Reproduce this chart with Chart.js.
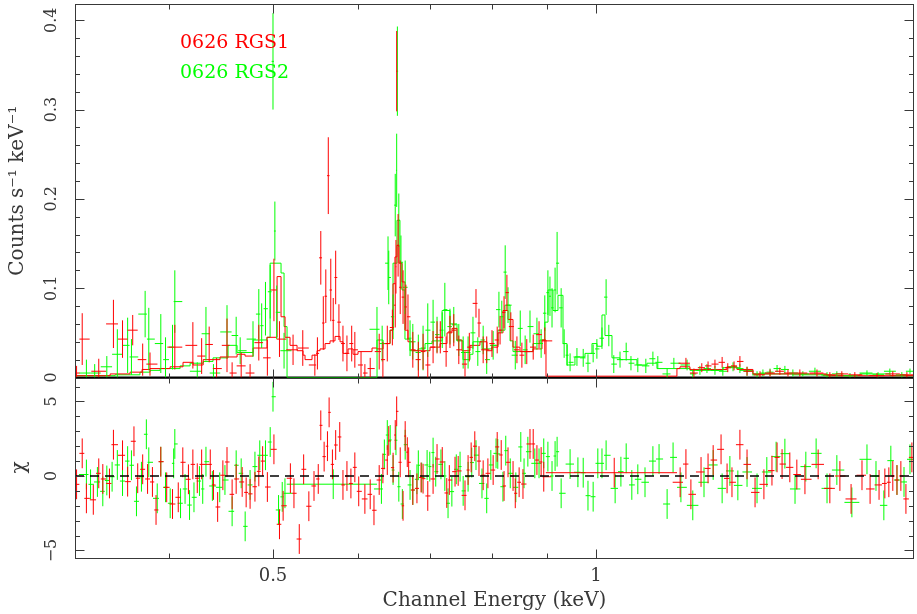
<!DOCTYPE html>
<html>
<head>
<meta charset="utf-8">
<title>0626 RGS spectrum</title>
<script src="https://cdn.jsdelivr.net/npm/chart.js@4.4.1/dist/chart.umd.min.js"></script>
<style>
  html, body { margin: 0; padding: 0; background: #fff; }
  #spec { display: block; }
</style>
</head>
<body>
<canvas id="spec" width="917" height="614"></canvas>
<script>
// ==========================================
// RGS1 / RGS2 SPECTRUM + RESIDUALS
// ==========================================

// --- AXES / LABELS ---
const seriesNames = ['0626 RGS1', '0626 RGS2'];
const seriesColors = ['#ff0000', '#00ff00'];
const energyTicks = [0.4, 0.5, 0.6, 0.7, 0.8, 0.9, 1];
const energyLabels = [0.5, 1];
const rateTicks = [0, 0.1, 0.2, 0.3, 0.4];
const rateTickLabels = ['0', '0.1', '0.2', '0.3', '0.4'];
const chiTicks = [-5, 0, 5];
const chiTickLabels = ['\u22125', '0', '5'];

// --- RGS1 DATA (keV, counts/s/keV, 1 sigma) ---
const rgs1E = [
  0.328, 0.332, 0.344, 0.355, 0.362, 0.370, 0.378, 0.384, 0.405, 0.421,
  0.429, 0.436, 0.443, 0.453, 0.458, 0.467, 0.476, 0.485, 0.494, 0.501,
  0.507, 0.522, 0.533, 0.547, 0.550, 0.554, 0.557, 0.560, 0.563, 0.566,
  0.569, 0.572, 0.576, 0.581, 0.586, 0.592, 0.596, 0.604, 0.609, 0.616,
  0.628, 0.633, 0.639, 0.646, 0.650, 0.651, 0.652, 0.654, 0.657, 0.661,
  0.665, 0.668, 0.675, 0.683, 0.690, 0.697, 0.705, 0.711, 0.716, 0.725,
  0.731, 0.737, 0.745, 0.755, 0.762, 0.773, 0.778, 0.785, 0.791, 0.800,
  0.809, 0.814, 0.821, 0.826, 0.833, 0.844, 0.853, 0.862, 0.874, 0.885,
  0.896, 1.213, 1.234, 1.255, 1.272, 1.291, 1.311, 1.327, 1.345, 1.362,
  1.383, 1.422, 1.453, 1.484, 1.510, 1.549, 1.607, 1.652, 1.695, 1.743,
  1.828, 1.891, 1.949
];
const rgs1Rate = [
  0.005, 0.043, 0.007, 0.060, 0.043, 0.053, 0.020, 0.015, 0.034, 0.036,
  0.024, 0.037, 0.010, 0.036, 0.005, 0.013, 0.005, 0.039, 0.022, 0.098,
  0.043, 0.031, 0.033, 0.014, 0.027, 0.134, 0.061, 0.091, 0.226, 0.098,
  0.064, 0.112, 0.062, 0.038, 0.027, 0.038, 0.031, 0.014, 0.005, 0.010,
  0.029, 0.020, 0.038, 0.056, 0.081, 0.124, 0.343, 0.148, 0.101, 0.090,
  0.079, 0.068, 0.031, 0.020, 0.029, 0.014, 0.034, 0.045, 0.045, 0.029,
  0.051, 0.053, 0.031, 0.015, 0.034, 0.083, 0.061, 0.031, 0.031, 0.038,
  0.042, 0.053, 0.073, 0.095, 0.057, 0.031, 0.025, 0.029, 0.034, 0.048,
  0.041, 0.016, 0.005, 0.011, 0.013, 0.015, 0.017, 0.011, 0.013, 0.018,
  0.007, 0.003, 0.005, 0.007, 0.005, 0.005, 0.005, 0.003, 0.004, 0.003,
  0.002, 0.004, 0.003
];
const rgs1Err = [
  0.008, 0.029, 0.014, 0.027, 0.021, 0.017, 0.018, 0.013, 0.025, 0.026,
  0.020, 0.020, 0.012, 0.030, 0.012, 0.015, 0.010, 0.020, 0.020, 0.035,
  0.020, 0.017, 0.020, 0.012, 0.018, 0.030, 0.030, 0.030, 0.043, 0.035,
  0.025, 0.030, 0.020, 0.020, 0.020, 0.020, 0.020, 0.015, 0.010, 0.012,
  0.020, 0.020, 0.020, 0.020, 0.025, 0.030, 0.045, 0.035, 0.030, 0.030,
  0.025, 0.025, 0.020, 0.020, 0.020, 0.015, 0.018, 0.018, 0.018, 0.017,
  0.018, 0.018, 0.016, 0.014, 0.016, 0.016, 0.016, 0.015, 0.015, 0.015,
  0.015, 0.016, 0.018, 0.020, 0.016, 0.015, 0.014, 0.014, 0.014, 0.015,
  0.015, 0.006, 0.005, 0.005, 0.005, 0.005, 0.006, 0.005, 0.005, 0.006,
  0.005, 0.004, 0.004, 0.004, 0.004, 0.004, 0.004, 0.003, 0.003, 0.003,
  0.003, 0.003, 0.003
];

// --- RGS2 DATA ---
const rgs2E = [
  0.335, 0.341, 0.350, 0.358, 0.366, 0.369, 0.380, 0.383, 0.393, 0.397,
  0.403, 0.405, 0.425, 0.433, 0.440, 0.453, 0.462, 0.466, 0.479, 0.485,
  0.488, 0.492, 0.497, 0.500, 0.502, 0.504, 0.512, 0.625, 0.632, 0.640,
  0.641, 0.647, 0.650, 0.652, 0.653, 0.655, 0.658, 0.664, 0.671, 0.675,
  0.683, 0.690, 0.697, 0.705, 0.711, 0.719, 0.723, 0.731, 0.737, 0.745,
  0.752, 0.760, 0.768, 0.776, 0.785, 0.791, 0.802, 0.812, 0.817, 0.823,
  0.828, 0.841, 0.850, 0.859, 0.868, 0.881, 0.889, 0.896, 0.902, 0.906,
  0.910, 0.916, 0.920, 0.928, 0.934, 0.940, 0.946, 0.960, 0.973, 0.983,
  0.994, 1.002, 1.013, 1.022, 1.028, 1.039, 1.053, 1.067, 1.078, 1.094,
  1.113, 1.130, 1.142, 1.165, 1.182, 1.216, 1.231, 1.250, 1.269, 1.291,
  1.313, 1.342, 1.362, 1.383, 1.413, 1.431, 1.453, 1.475, 1.500, 1.526,
  1.559, 1.600, 1.642, 1.677, 1.725, 1.789, 1.832, 1.879, 1.928, 1.962
];
const rgs2Rate = [
  0.005, 0.005, 0.012, 0.026, 0.036, 0.023, 0.071, 0.043, 0.038, 0.020,
  0.034, 0.085, 0.007, 0.049, 0.005, 0.051, 0.047, 0.030, 0.043, 0.071,
  0.058, 0.077, 0.096, 0.354, 0.164, 0.073, 0.030, 0.054, 0.038, 0.128,
  0.112, 0.068, 0.193, 0.232, 0.343, 0.176, 0.129, 0.101, 0.044, 0.040,
  0.028, 0.033, 0.053, 0.062, 0.048, 0.053, 0.076, 0.057, 0.059, 0.042,
  0.028, 0.028, 0.050, 0.029, 0.042, 0.020, 0.036, 0.076, 0.068, 0.118,
  0.081, 0.025, 0.055, 0.031, 0.057, 0.049, 0.038, 0.072, 0.095, 0.091,
  0.078, 0.098, 0.128, 0.078, 0.038, 0.025, 0.017, 0.023, 0.022, 0.016,
  0.027, 0.032, 0.044, 0.090, 0.047, 0.015, 0.020, 0.029, 0.016, 0.014,
  0.013, 0.021, 0.017, 0.004, 0.016, 0.014, 0.004, 0.008, 0.010, 0.008,
  0.007, 0.012, 0.010, 0.007, 0.003, 0.005, 0.006, 0.010, 0.009, 0.005,
  0.004, 0.007, 0.003, 0.004, 0.002, 0.005, 0.003, 0.007, 0.003, 0.007
];
const rgs2Err = [
  0.015, 0.010, 0.012, 0.028, 0.031, 0.020, 0.026, 0.035, 0.033, 0.025,
  0.025, 0.035, 0.010, 0.030, 0.010, 0.030, 0.021, 0.015, 0.020, 0.028,
  0.025, 0.030, 0.030, 0.054, 0.033, 0.030, 0.020, 0.025, 0.020, 0.030,
  0.030, 0.025, 0.035, 0.041, 0.050, 0.030, 0.030, 0.030, 0.020, 0.020,
  0.020, 0.025, 0.030, 0.025, 0.020, 0.020, 0.030, 0.020, 0.020, 0.018,
  0.018, 0.018, 0.018, 0.016, 0.016, 0.016, 0.016, 0.020, 0.018, 0.030,
  0.020, 0.016, 0.020, 0.016, 0.018, 0.018, 0.016, 0.020, 0.025, 0.022,
  0.022, 0.025, 0.035, 0.022, 0.016, 0.012, 0.010, 0.010, 0.010, 0.010,
  0.010, 0.011, 0.012, 0.020, 0.012, 0.010, 0.009, 0.010, 0.008, 0.008,
  0.008, 0.008, 0.007, 0.006, 0.006, 0.006, 0.005, 0.005, 0.005, 0.005,
  0.005, 0.005, 0.005, 0.005, 0.004, 0.004, 0.004, 0.004, 0.004, 0.004,
  0.003, 0.004, 0.003, 0.003, 0.003, 0.003, 0.003, 0.003, 0.003, 0.003
];

// --- FOLDED MODELS (bin start energies, last entry closes the last bin) ---
const rgs1ModelE = [
  0.327, 0.3525, 0.3679, 0.3775, 0.3840, 0.4009, 0.4122, 0.4212, 0.4304, 0.4463,
  0.4629, 0.4709, 0.4791, 0.4936, 0.5044, 0.5087, 0.5131, 0.5186, 0.5265, 0.5333,
  0.5356, 0.5437, 0.5496, 0.5531, 0.5591, 0.5651, 0.5712, 0.5774, 0.5811, 0.5874,
  0.5937, 0.6001, 0.6184, 0.6251, 0.6332, 0.6428, 0.6469, 0.6496, 0.6524, 0.6552,
  0.6595, 0.6637, 0.6680, 0.6752, 0.7004, 0.7156, 0.7264, 0.7342, 0.7421, 0.7501,
  0.7631, 0.7796, 0.7914, 0.8000, 0.8104, 0.8191, 0.8280, 0.8369, 0.8496, 0.8736,
  0.8906, 0.8983, 1.1898, 1.1976, 1.2235, 1.3246, 1.3534, 1.4006, 1.6417, 1.979
];
const rgs1Model = [
  0.002, 0.004, 0.006, 0.009, 0.010, 0.012, 0.017, 0.014, 0.020, 0.023,
  0.026, 0.024, 0.033, 0.045, 0.113, 0.068, 0.045, 0.036, 0.030, 0.025,
  0.020, 0.025, 0.030, 0.032, 0.038, 0.041, 0.046, 0.040, 0.027, 0.032,
  0.026, 0.029, 0.033, 0.032, 0.038, 0.053, 0.105, 0.135, 0.148, 0.128,
  0.107, 0.053, 0.040, 0.030, 0.034, 0.038, 0.050, 0.055, 0.042, 0.030,
  0.036, 0.040, 0.030, 0.034, 0.050, 0.075, 0.065, 0.034, 0.029, 0.032,
  0.042, 0.0015, 0.010, 0.012, 0.009, 0.012, 0.009, 0.004, 0.002
];
const rgs2ModelE = [
  0.327, 0.3562, 0.3758, 0.3840, 0.3924, 0.4096, 0.4185, 0.4304, 0.4396, 0.4540,
  0.4629, 0.4791, 0.4936, 0.4969, 0.5087, 0.5120, 0.5153, 0.6251, 0.6332, 0.6428,
  0.6469, 0.6524, 0.6566, 0.6595, 0.6637, 0.6709, 0.6825, 0.6929, 0.7034, 0.7187,
  0.7311, 0.7421, 0.7517, 0.7631, 0.7680, 0.7830, 0.8000, 0.8104, 0.8226, 0.8316,
  0.8369, 0.8736, 0.8868, 0.8963, 0.9022, 0.9119, 0.9217, 0.9317, 0.9397, 0.9559,
  0.9767, 0.9915, 1.0022, 1.0130, 1.0195, 1.0350, 1.0529, 1.0920, 1.1157, 1.1399,
  1.2235, 1.3134, 1.3620, 1.4006, 1.5262, 1.6277, 1.7622, 1.8795, 1.979
];
const rgs2Model = [
  0.002, 0.003, 0.006, 0.008, 0.010, 0.013, 0.016, 0.018, 0.022, 0.036,
  0.028, 0.042, 0.045, 0.128, 0.117, 0.057, 0.000, 0.042, 0.038, 0.053,
  0.128, 0.176, 0.128, 0.098, 0.043, 0.030, 0.032, 0.038, 0.041, 0.075,
  0.060, 0.041, 0.020, 0.026, 0.040, 0.032, 0.036, 0.053, 0.081, 0.041,
  0.029, 0.038, 0.042, 0.062, 0.098, 0.075, 0.092, 0.038, 0.014, 0.023,
  0.027, 0.038, 0.035, 0.070, 0.047, 0.022, 0.020, 0.014, 0.016, 0.010,
  0.008, 0.011, 0.008, 0.004, 0.003, 0.002, 0.004, 0.002
];

// --- RESIDUALS (chi, error bars are +-1) ---
const rgs1ChiE = [
  0.328, 0.332, 0.335, 0.340, 0.344, 0.347, 0.352, 0.355, 0.362, 0.366,
  0.371, 0.374, 0.378, 0.382, 0.386, 0.389, 0.393, 0.398, 0.403, 0.408,
  0.412, 0.417, 0.421, 0.425, 0.429, 0.437, 0.440, 0.444, 0.449, 0.453,
  0.458, 0.462, 0.468, 0.472, 0.476, 0.481, 0.485, 0.489, 0.494, 0.501,
  0.507, 0.511, 0.519, 0.523, 0.529, 0.534, 0.540, 0.546, 0.551, 0.554,
  0.558, 0.562, 0.564, 0.568, 0.572, 0.577, 0.581, 0.586, 0.591, 0.596,
  0.601, 0.609, 0.616, 0.621, 0.628, 0.633, 0.639, 0.641, 0.647, 0.650,
  0.652, 0.657, 0.661, 0.664, 0.667, 0.669, 0.675, 0.681, 0.687, 0.690,
  0.697, 0.705, 0.711, 0.719, 0.726, 0.730, 0.739, 0.744, 0.755, 0.760,
  0.765, 0.771, 0.778, 0.785, 0.793, 0.802, 0.809, 0.816, 0.821, 0.828,
  0.837, 0.841, 0.848, 0.855, 0.868, 0.874, 0.881, 0.889, 0.894, 1.198,
  1.213, 1.226, 1.253, 1.272, 1.286, 1.308, 1.325, 1.339, 1.362, 1.383,
  1.407, 1.434, 1.459, 1.475, 1.491, 1.516, 1.539, 1.566, 1.611, 1.652,
  1.688, 1.729, 1.770, 1.801, 1.836, 1.859, 1.875, 1.891, 1.908, 1.924,
  1.945, 1.970
];
const rgs1Chi = [
  -0.56, 1.52, -1.5, -1.6, 0.18, -0.2, -0.5, 2.1, 1.39, -0.38,
  2.33, -0.15, 0.45, -0.2, -0.4, -2.28, 0.96, -0.76, -1.88, -1.43,
  0.92, -0.22, 0.78, -0.15, 0.78, 0.78, -0.6, -2.08, 0.05, 0.94,
  -1.23, -0.2, -0.4, -1.1, -1.2, -0.72, 0.31, 1.0, -0.74, 1.79,
  -3.24, -2.0, -0.15, -1.16, -4.23, 0.45, -2.03, -0.67, -0.2, 3.4,
  1.3, 2.0, 4.27, 0.78, 2.08, 2.62, -0.6, 0.0, -0.5, 0.58,
  -1.03, -1.54, -1.23, -2.3, -0.27, 0.51, 1.07, 2.35, 0.56, 2.75,
  4.34, 0.92, -2.0, 2.68, 1.6, 0.92, -0.94, -0.83, -0.1, -0.18,
  -1.34, -0.2, 1.14, 0.94, -1.14, -0.27, 0.29, 0.34, -1.3, 0.4,
  1.25, 2.0, 1.0, 0.05, 0.18, 0.4, 1.95, 1.41, -0.67, 0.92,
  0.0, -1.16, -0.42, -0.54, 2.15, 2.15, 1.07, 0.94, -0.05, -0.42,
  0.8, -1.23, 0.27, 0.51, 1.07, 1.79, -0.16, -0.42, 2.1, 0.78,
  -1.1, -0.56, 0.36, 1.25, 0.8, 0.58, 0.1, -0.22, 0.78, -0.83,
  0.0, -1.54, 0.05, -0.87, -0.6, -0.5, -0.42, 0.0, -0.27, 0.0,
  -1.54, 1.25
];
const rgs2ChiE = [
  0.335, 0.338, 0.343, 0.347, 0.350, 0.354, 0.358, 0.362, 0.366, 0.369,
  0.373, 0.377, 0.381, 0.383, 0.390, 0.393, 0.397, 0.401, 0.404, 0.405,
  0.410, 0.414, 0.418, 0.422, 0.427, 0.430, 0.433, 0.439, 0.446, 0.451,
  0.458, 0.462, 0.467, 0.471, 0.476, 0.481, 0.486, 0.492, 0.497, 0.500,
  0.506, 0.510, 0.513, 0.631, 0.635, 0.639, 0.643, 0.647, 0.651, 0.655,
  0.660, 0.664, 0.671, 0.675, 0.681, 0.683, 0.688, 0.696, 0.700, 0.705,
  0.709, 0.717, 0.723, 0.728, 0.734, 0.741, 0.747, 0.752, 0.760, 0.766,
  0.773, 0.783, 0.791, 0.798, 0.807, 0.810, 0.819, 0.824, 0.832, 0.842,
  0.851, 0.857, 0.864, 0.877, 0.885, 0.894, 0.902, 0.910, 0.916, 0.920,
  0.928, 0.946, 0.962, 0.973, 0.983, 0.994, 1.004, 1.013, 1.022, 1.042,
  1.055, 1.067, 1.080, 1.094, 1.111, 1.130, 1.145, 1.165, 1.180, 1.200,
  1.231, 1.261, 1.286, 1.311, 1.333, 1.356, 1.383, 1.413, 1.443, 1.472,
  1.500, 1.533, 1.569, 1.604, 1.642, 1.677, 1.732, 1.789, 1.824, 1.855,
  1.883, 1.908, 1.937, 1.962
];
const rgs2Chi = [
  0.1, -0.56, -0.4, -1.03, -0.3, -0.05, 0.74, -0.34, 1.0, 0.72,
  -1.7, -0.05, 2.8, 0.92, -1.5, 0.96, -0.76, -1.83, 0.85, 2.15,
  -1.83, -0.87, -1.95, -1.43, -0.34, -0.87, 0.96, -0.67, -0.76, -0.27,
  -2.37, 0.72, 0.18, -3.38, -0.6, 0.63, 1.39, 1.39, 2.28, 5.32,
  -2.28, -1.4, -1.16, -0.87, 1.45, 2.75, 2.42, 0.4, 2.4, -0.72,
  -1.88, 2.1, -0.6, -0.94, -0.22, 0.72, -0.1, 0.74, 0.63, 1.57,
  0.29, 0.78, 0.0, -1.83, -1.05, 0.45, 0.63, -1.0, -0.05, 0.9,
  1.4, -0.5, -1.5, 0.74, 1.52, 1.48, -0.72, 1.7, 0.18, -0.76,
  1.95, 0.18, 1.63, 0.85, 0.85, 1.52, 1.3, 0.0, 1.34, 1.63,
  -1.16, 0.8, 0.25, 0.22, -1.32, -1.39, 0.85, 0.85, 1.39, -0.83,
  0.29, 1.19, -0.6, -0.22, -0.42, 1.0, 1.14, -1.88, 1.25, -0.76,
  -1.97, -0.42, 0.74, -0.83, 0.34, -0.63, 0.27, -0.83, 0.27, 1.3,
  1.5, -0.87, 0.63, 1.52, -0.83, 0.4, -1.77, 1.12, 0.0, -1.97,
  1.03, -0.27, -0.4, 1.12
];

// the single wide bins that cover the dead CCD of each instrument: lo, centre, hi
const rgs1GapBin = [0.898, 1.040, 1.190];
const rgs1GapChi = 0.22;
const rgs2GapBin = [0.515, 0.569, 0.625];
const rgs2GapChi = -0.55;

// --- HELPERS ---

const FONT = 'DejaVu Serif';
const INK = '#383838';
const E_MIN = 0.3269;
const E_MAX = 1.979;

// horizontal extent of each grouped bin: half way (in log) to the neighbours, capped
function binEdges(centers) {
  const cap = 0.016;
  return centers.map((e, i) => {
    const lo = i > 0 ? Math.sqrt(centers[i - 1] * e) : 0;
    const hi = i < centers.length - 1 ? Math.sqrt(e * centers[i + 1]) : Infinity;
    return [Math.max(lo, e * Math.exp(-cap)), Math.min(hi, e * Math.exp(cap))];
  });
}

// crosses drawn as one broken line: horizontal bin, then vertical error
function crosses(centers, values, errors, floor) {
  const edges = binEdges(centers);
  const pts = [];
  centers.forEach((e, i) => {
    const v = values[i];
    const err = Array.isArray(errors) ? errors[i] : errors;
    const low = floor === undefined ? v - err : Math.max(floor, v - err);
    pts.push({ x: edges[i][0], y: v }, { x: edges[i][1], y: v }, { x: e, y: null });
    pts.push({ x: e, y: low }, { x: e, y: v + err }, { x: e, y: null });
  });
  return pts;
}

function gapCross(bin, chi) {
  return [
    { x: bin[0], y: chi }, { x: bin[2], y: chi }, { x: bin[1], y: null },
    { x: bin[1], y: chi - 1 }, { x: bin[1], y: chi + 1 }, { x: bin[1], y: null }
  ];
}

function steps(edges, values) {
  const pts = values.map((v, i) => ({ x: edges[i], y: v }));
  pts.push({ x: edges[values.length], y: values[values.length - 1] });
  return pts;
}

// --- PGPLOT STYLE FRAME: ticks inside on all sides, rotated y labels, legend ---

const pgplotFrame = {
  id: 'pgplotFrame',
  beforeDatasetsDraw(chart) {
    // panel divider = zero of the spectrum, drawn under the model lines
    const { ctx, chartArea: a, scales } = chart;
    const yz = scales.yRate.getPixelForValue(0);
    ctx.save();
    ctx.strokeStyle = '#000';
    ctx.lineWidth = 2;
    ctx.beginPath();
    ctx.moveTo(a.left, yz); ctx.lineTo(a.right, yz);
    ctx.stroke();
    ctx.restore();
  },
  afterDatasetsDraw(chart) {
    const { ctx, chartArea: a, scales } = chart;
    const x = scales.x;
    const panels = [
      [scales.yRate, rateTicks, rateTickLabels, 0.02],
      [scales.yChi, chiTicks, chiTickLabels, 1]
    ];

    ctx.save();
    ctx.lineWidth = 1;
    ctx.strokeStyle = INK;
    panels.forEach(([y, majors, labels, minorStep]) => {
      const top = Math.round(y.top) + 0.5;
      const bottom = Math.round(y.bottom) + 0.5;
      const left = Math.round(a.left) + 0.5;
      const right = Math.round(a.right) - 0.5;
      ctx.strokeRect(left, top, right - left, bottom - top);

      ctx.beginPath();
      energyTicks.forEach(v => {
        const px = Math.round(x.getPixelForValue(v)) + 0.5;
        const len = energyLabels.includes(v) ? 9 : 5;
        ctx.moveTo(px, top); ctx.lineTo(px, top + len);
        ctx.moveTo(px, bottom); ctx.lineTo(px, bottom - len);
      });
      const k0 = Math.ceil(y.min / minorStep - 1e-6);
      const k1 = Math.floor(y.max / minorStep + 1e-6);
      for (let k = k0; k <= k1; k++) {
        const v = k * minorStep;
        const major = majors.some(m => Math.abs(m - v) < 1e-6);
        const py = Math.round(y.getPixelForValue(v)) + 0.5;
        const len = major ? 9 : 4.5;
        ctx.moveTo(left, py); ctx.lineTo(left + len, py);
        ctx.moveTo(right, py); ctx.lineTo(right - len, py);
      }
      ctx.stroke();

      ctx.fillStyle = INK;
      ctx.font = `16px "${FONT}"`;
      ctx.textAlign = 'center';
      ctx.textBaseline = 'middle';
      majors.forEach((v, i) => {
        ctx.save();
        ctx.translate(52, y.getPixelForValue(v));
        ctx.rotate(-Math.PI / 2);
        ctx.fillText(labels[i], 0, 0);
        ctx.restore();
      });
    });

    // legend
    ctx.font = `19px "${FONT}"`;
    ctx.textAlign = 'left';
    ctx.textBaseline = 'middle';
    seriesNames.forEach((name, i) => {
      ctx.fillStyle = seriesColors[i];
      ctx.fillText(name, 180, 43 + i * 30);
    });
    ctx.restore();
  }
};

// --- CHART ---

const lineDefaults = { pointRadius: 0, borderWidth: 1, tension: 0, fill: false, spanGaps: false };

new Chart(document.getElementById('spec'), {
  type: 'line',
  data: {
    datasets: [
      { ...lineDefaults, data: crosses(rgs1E, rgs1Rate, rgs1Err, 0), borderColor: seriesColors[0], yAxisID: 'yRate' },
      { ...lineDefaults, data: crosses(rgs2E, rgs2Rate, rgs2Err, 0), borderColor: seriesColors[1], yAxisID: 'yRate' },
      { ...lineDefaults, data: steps(rgs1ModelE, rgs1Model), stepped: 'before', borderColor: seriesColors[0], yAxisID: 'yRate' },
      { ...lineDefaults, data: steps(rgs2ModelE, rgs2Model), stepped: 'before', borderColor: seriesColors[1], yAxisID: 'yRate' },
      { ...lineDefaults, data: [{ x: E_MIN, y: 0 }, { x: E_MAX, y: 0 }], borderColor: '#000', borderWidth: 1.3, borderDash: [9, 6], yAxisID: 'yChi' },
      { ...lineDefaults, data: crosses(rgs1ChiE, rgs1Chi, 1).concat(gapCross(rgs1GapBin, rgs1GapChi)), borderColor: seriesColors[0], yAxisID: 'yChi' },
      { ...lineDefaults, data: crosses(rgs2ChiE, rgs2Chi, 1).concat(gapCross(rgs2GapBin, rgs2GapChi)), borderColor: seriesColors[1], yAxisID: 'yChi' }
    ]
  },
  options: {
    responsive: false,
    animation: false,
    events: [],
    layout: { padding: { left: 0, right: 3, top: 4, bottom: 0 } },
    plugins: { legend: { display: false }, tooltip: { enabled: false } },
    scales: {
      x: {
        type: 'logarithmic',
        bounds: 'data',
        min: E_MIN,
        max: E_MAX,
        afterFit: s => { s.height = 56.5; },
        afterBuildTicks: s => {
          s.ticks = energyTicks.map(v => ({ value: v }));
          s.min = E_MIN;
          s.max = E_MAX;
        },
        grid: { display: false, drawTicks: false },
        border: { display: false },
        ticks: {
          autoSkip: false, maxRotation: 0, minRotation: 0, padding: 8,
          color: INK, font: { family: FONT, size: 18 },
          callback: v => energyLabels.includes(v) ? String(v) : ''
        },
        title: {
          display: true, text: 'Channel Energy (keV)', color: INK,
          font: { family: FONT, size: 20 }, padding: { top: 0, bottom: 1 }
        }
      },
      yRate: {
        type: 'linear', position: 'left', stack: 'panels', stackWeight: 373.5, weight: 1,
        min: 0, max: 0.4182,
        afterFit: s => { s.width = 75; },
        grid: { display: false, drawTicks: false },
        border: { display: false },
        ticks: { display: false },
        title: {
          display: true, text: 'Counts s\u207B\u00B9 keV\u207B\u00B9', color: INK,
          font: { family: FONT, size: 20 }, padding: { top: 6, bottom: 0 }
        }
      },
      yChi: {
        type: 'linear', position: 'left', stack: 'panels', stackWeight: 180, weight: 0,
        min: -5.47, max: 6.61,
        afterFit: s => { s.width = 75; },
        grid: { display: false, drawTicks: false },
        border: { display: false },
        ticks: { display: false },
        title: {
          display: true, text: '\u03C7', color: INK,
          font: { family: FONT, size: 20 }, padding: { top: 8, bottom: 0 }
        }
      }
    }
  },
  plugins: [pgplotFrame]
});
</script>
</body>
</html>
